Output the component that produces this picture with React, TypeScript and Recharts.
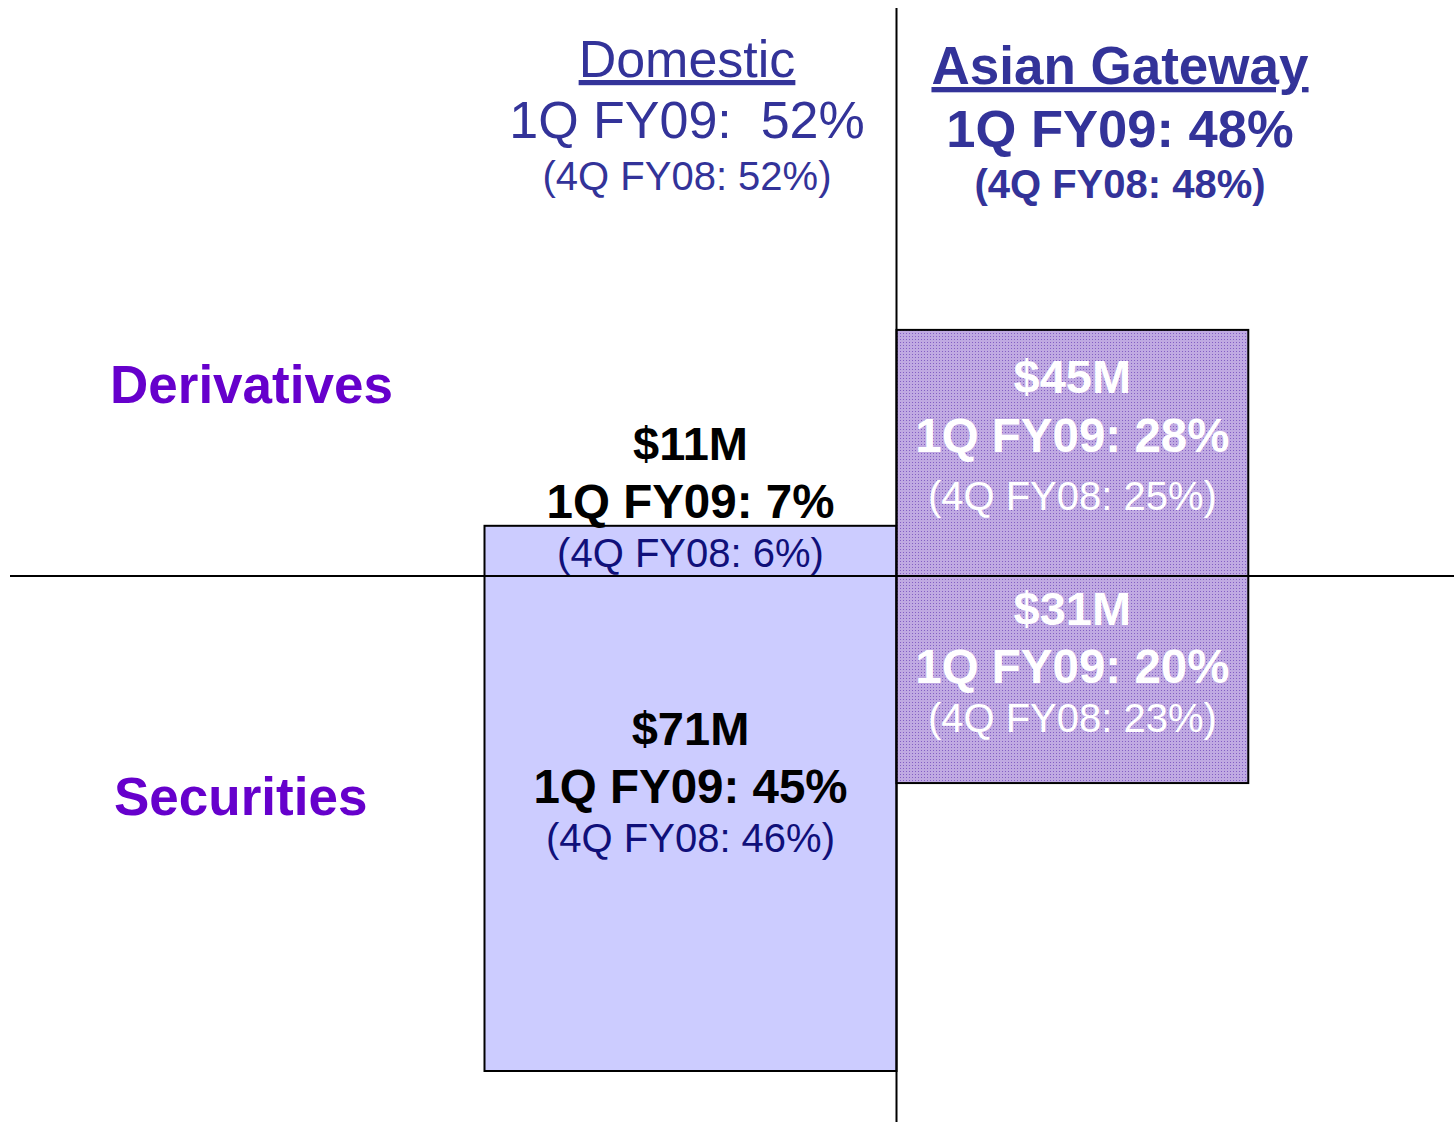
import { ComposedChart, XAxis, YAxis, ReferenceArea, ReferenceLine, Scatter, Customized } from "recharts";

// columns (regions) and rows (business lines)
const regions = ["Domestic", "Asian Gateway"];
const regionShare1Q = [52, 48];
const regionShare4Q = [52, 48];
const lines = ["Derivatives", "Securities"];

// revenue in $M per region
const derivRevenue = [11, 45];
const secRevenue = [71, 31];
// share of total, 1Q FY09 and 4Q FY08
const derivShare1Q = [7, 28];
const derivShare4Q = [6, 25];
const secShare1Q = [45, 20];
const secShare4Q = [46, 23];

// box extents as drawn in the picture (column width in share units, depth in $M units)
const colWidth = [52, 44.4];
const derivDepth = [7.2, 35.3];
const secDepth = [71, 29.7];

const W = 1454;
const H = 1125;
const KX = 412 / 52;
const KY = 495 / 71;
const AXIS_X = 896.5;
const AXIS_Y = 576;
const FONT = "'Liberation Sans', Arial, Helvetica, sans-serif";

const xDomain = [-AXIS_X / KX, (W - AXIS_X) / KX];
const yDomain = [-(H - AXIS_Y) / KY, AXIS_Y / KY];

// text baselines relative to the horizontal axis, per box
const derivText = [[-116, -58, -9], [-183, -124, -66]];
const secText = [[169, 227, 276], [49, 107, 156]];

type Box = {
  x1: number; x2: number; y1: number; y2: number;
  money: number; s1: number; s4: number;
  top: boolean; offs: number[]; col: number;
};

const boxes: Box[] = [];
regions.forEach((_, i) => {
  const x1 = i === 0 ? -colWidth[0] : 0;
  const x2 = i === 0 ? 0 : colWidth[1];
  boxes.push({ x1, x2, y1: 0, y2: derivDepth[i], money: derivRevenue[i], s1: derivShare1Q[i], s4: derivShare4Q[i], top: true, offs: derivText[i], col: i });
  boxes.push({ x1, x2, y1: -secDepth[i], y2: 0, money: secRevenue[i], s1: secShare1Q[i], s4: secShare4Q[i], top: false, offs: secText[i], col: i });
});

const boxShape = (b: Box) => (props: any) => {
  const { x, y, width, height } = props;
  const axisY = b.top ? y + height : y;
  const cx = x + width / 2;
  const dom = b.col === 0;
  const main = dom ? "#000000" : "#ffffff";
  const sub = dom ? "#10107a" : "#ffffff";
  return (
    <g>
      <rect x={x} y={y} width={width} height={height} fill={dom ? "#ccccff" : "url(#dots)"} stroke="#000" strokeWidth={2} />
      <text x={cx} y={axisY + b.offs[0]} textAnchor="middle" fontFamily={FONT} fontWeight="bold" fontSize={47} fill={main}>
        ${b.money}M
      </text>
      <text x={cx} y={axisY + b.offs[1]} textAnchor="middle" fontFamily={FONT} fontWeight="bold" fontSize={47.5} fill={main}>
        1Q FY09: {b.s1}%
      </text>
      <text x={cx} y={axisY + b.offs[2]} textAnchor="middle" fontFamily={FONT} fontSize={40} fill={sub}>
        (4Q FY08: {b.s4}%)
      </text>
    </g>
  );
};

const Headers = () => (
  <g>
    <defs>
      <pattern id="dots" width={3} height={3} patternUnits="userSpaceOnUse">
        <rect width={3} height={3} fill="#c0aae2" />
        <rect width={1} height={1} fill="#8460c4" />
      </pattern>
    </defs>
    <text x={687} y={77} textAnchor="middle" fontFamily={FONT} fontSize={52} fill="#333399" textDecoration="underline">
      {regions[0]}
    </text>
    <text x={687} y={138} textAnchor="middle" fontFamily={FONT} fontSize={52} fill="#333399" style={{ whiteSpace: "pre" }}>
      {`1Q FY09:  ${regionShare1Q[0]}%`}
    </text>
    <text x={687} y={190} textAnchor="middle" fontFamily={FONT} fontSize={40} fill="#333399">
      (4Q FY08: {regionShare4Q[0]}%)
    </text>
    <text x={1120} y={84} textAnchor="middle" fontFamily={FONT} fontWeight="bold" fontSize={53} fill="#333399" textDecoration="underline">
      {regions[1]}
    </text>
    <text x={1120} y={147} textAnchor="middle" fontFamily={FONT} fontWeight="bold" fontSize={52.5} fill="#333399">
      1Q FY09: {regionShare1Q[1]}%
    </text>
    <text x={1120} y={198} textAnchor="middle" fontFamily={FONT} fontWeight="bold" fontSize={40} fill="#333399">
      (4Q FY08: {regionShare4Q[1]}%)
    </text>
    <text x={110} y={403} fontFamily={FONT} fontWeight="bold" fontSize={53} fill="#6600cc">
      {lines[0]}
    </text>
    <text x={114} y={815} fontFamily={FONT} fontWeight="bold" fontSize={53} fill="#6600cc">
      {lines[1]}
    </text>
  </g>
);

export default function App() {
  const centers = boxes.map((b) => ({ x: (b.x1 + b.x2) / 2, y: (b.y1 + b.y2) / 2 }));
  return (
    <div style={{ position: "absolute", left: 0, top: 0, width: W, height: H, background: "#fff" }}>
      <ComposedChart width={W} height={H} data={centers} margin={{ top: 0, right: 0, bottom: 0, left: 0 }}>
        <XAxis type="number" dataKey="x" domain={xDomain} hide allowDataOverflow />
        <YAxis type="number" dataKey="y" domain={yDomain} hide allowDataOverflow />
        {boxes.map((b, i) => (
          <ReferenceArea key={i} x1={b.x1} x2={b.x2} y1={b.y1} y2={b.y2} shape={boxShape(b)} ifOverflow="visible" />
        ))}
        <ReferenceLine
          segment={[{ x: -(AXIS_X - 10) / KX, y: 0 }, { x: xDomain[1], y: 0 }]}
          stroke="#000"
          strokeWidth={2}
          ifOverflow="visible"
        />
        <ReferenceLine
          segment={[{ x: 0, y: (AXIS_Y - 8) / KY }, { x: 0, y: -(1122 - AXIS_Y) / KY }]}
          stroke="#000"
          strokeWidth={2}
          ifOverflow="visible"
        />
        <Scatter dataKey="y" fill="none" shape={() => <g />} isAnimationActive={false} />
        <Customized component={<Headers />} />
      </ComposedChart>
    </div>
  );
}
